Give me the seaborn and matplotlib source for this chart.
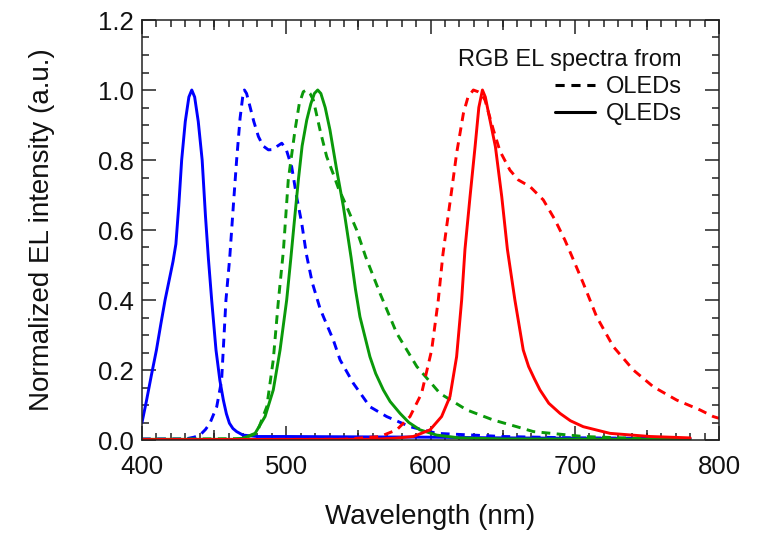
import numpy as np
import pandas as pd
import matplotlib
matplotlib.use("Agg")
import matplotlib.pyplot as plt
from matplotlib.lines import Line2D
from matplotlib.ticker import MultipleLocator, FixedLocator
import seaborn as sns

# ---------------- data ----------------
blue_q_wl = [400, 403, 406.5, 410, 413, 416, 419.5, 421.5, 423.5, 425.5, 427.5, 430, 432.5, 434.5, 436.5,
             439, 441.7, 444, 446, 448.3, 451.3, 454, 456.4, 458.5, 460.6, 463, 465.6, 470, 480,
             500, 550, 600, 650, 700, 780]
blue_q_int = [0.05, 0.11, 0.185, 0.257, 0.33, 0.40, 0.47, 0.51, 0.56, 0.67, 0.80, 0.91, 0.98, 1.0, 0.98,
              0.91, 0.80, 0.64, 0.52, 0.40, 0.257, 0.17, 0.114, 0.075, 0.048, 0.033, 0.024, 0.014, 0.010,
              0.010, 0.009, 0.008, 0.006, 0.005, 0.004]

blue_o_wl = [400, 430, 436, 440.2, 444, 447.1, 451.8, 455.2, 458.2, 460.8, 463.5, 465.6, 468, 469.8,
             471, 472.5, 474.9, 477.5, 480.7, 484, 487.6, 491, 494, 496.9, 500, 503.8, 507.2, 510.7,
             514, 518, 523.4, 526, 532.6, 537.3, 546.5, 558, 569.6, 585.8, 604.3, 650, 700, 780]
blue_o_int = [0.003, 0.003, 0.008, 0.014, 0.03, 0.048, 0.095, 0.171, 0.40, 0.52, 0.68, 0.80, 0.92, 0.98,
              1.0, 0.99, 0.952, 0.91, 0.867, 0.84, 0.829, 0.83, 0.84, 0.848, 0.83, 0.78, 0.695, 0.62,
              0.53, 0.45, 0.376, 0.35, 0.286, 0.229, 0.162, 0.095, 0.067, 0.038, 0.019, 0.010, 0.006, 0.004]

green_q_wl = [400, 465, 470, 478.4, 485.3, 491, 495.7, 500.3, 503.2, 505.5, 508.4, 511, 514.2, 517,
              519.5, 521.8, 524, 527, 530.3, 535, 539.6, 545, 548, 551.1, 558, 562, 567.3, 572, 578.9,
              585, 592.7, 604.3, 620, 650, 780]
green_q_int = [0.002, 0.002, 0.005, 0.019, 0.067, 0.143, 0.257, 0.40, 0.52, 0.62, 0.743, 0.84, 0.914, 0.96,
               0.99, 1.0, 0.99, 0.95, 0.886, 0.771, 0.667, 0.52, 0.43, 0.352, 0.238, 0.19, 0.143, 0.11, 0.076,
               0.05, 0.029, 0.014, 0.006, 0.003, 0.002]

green_o_wl = [400, 470, 479.5, 486.5, 491, 494.6, 498, 501.4, 506.1, 509, 511.8, 514, 516.5, 518.8,
              523.4, 528, 532.6, 536.1, 541.9, 548.8, 555, 565, 576.6, 590.5, 606.6, 625.1, 643.6,
              659.8, 671.3, 706, 740, 780]
green_o_int = [0.002, 0.004, 0.019, 0.095, 0.229, 0.40, 0.54, 0.743, 0.886, 0.96, 0.995, 1.0, 0.99, 0.971,
               0.886, 0.81, 0.76, 0.72, 0.667, 0.60, 0.524, 0.419, 0.305, 0.21, 0.133, 0.086, 0.057,
               0.038, 0.024, 0.010, 0.005, 0.004]

red_q_wl = [400, 560, 575, 588.1, 599.7, 607.7, 613.5, 618.1, 621.6, 623.9, 627.4, 630.9, 633.5, 636,
            638, 640.3, 645, 649.4, 653.3, 658.5, 664.3, 668, 672, 675.9, 682, 689.8, 697, 705.9, 724.4,
            752.2, 780]
red_q_int = [0.001, 0.002, 0.005, 0.010, 0.029, 0.067, 0.124, 0.238, 0.40, 0.545, 0.695, 0.838, 0.95, 1.0,
             0.98, 0.933, 0.838, 0.695, 0.545, 0.40, 0.257, 0.21, 0.175, 0.143, 0.105, 0.076, 0.055, 0.038,
             0.019, 0.010, 0.006]

red_o_wl = [400, 540, 565, 576.6, 585.8, 593.8, 600.8, 605.4, 608.6, 611.2, 614.7, 618.1, 622.8, 626,
            629.7, 633, 635, 637.8, 643.6, 648.2, 655.1, 660.9, 669, 678.2, 686.3, 693.2, 697.5, 705.9,
            715.2, 726.7, 740.6, 754.5, 770.7, 786.8, 796, 800]
red_o_int = [0.001, 0.002, 0.010, 0.029, 0.067, 0.133, 0.257, 0.40, 0.53, 0.61, 0.714, 0.819, 0.933, 0.98,
             1.0, 0.995, 0.99, 0.971, 0.886, 0.825, 0.771, 0.743, 0.724, 0.686, 0.629, 0.571, 0.53, 0.448,
             0.352, 0.267, 0.20, 0.152, 0.114, 0.086, 0.067, 0.062]

x_ticks = [400, 500, 600, 700, 800]
y_ticks = [0.0, 0.2, 0.4, 0.6, 0.8, 1.0, 1.2]
y_tick_labels = ["0.0", "0.2", "0.4", "0.6", "0.8", "1.0", "1.2"]

series = [
    ("blue", "OLEDs", blue_o_wl, blue_o_int),
    ("green", "OLEDs", green_o_wl, green_o_int),
    ("red", "OLEDs", red_o_wl, red_o_int),
    ("blue", "QLEDs", blue_q_wl, blue_q_int),
    ("green", "QLEDs", green_q_wl, green_q_int),
    ("red", "QLEDs", red_q_wl, red_q_int),
]

frames = []
for col, dev, wl, it in series:
    frames.append(pd.DataFrame({"wl": wl, "I": it, "color": col, "device": dev,
                                "sid": f"{col}-{dev}"}))
df = pd.concat(frames, ignore_index=True)

palette = {"blue": "#0000ff", "green": "#0a990a", "red": "#ff0000"}
dash_style = {"OLEDs": (3.0, 2.2), "QLEDs": ""}

# ---------------- figure ----------------
sns.set_style("ticks")
plt.rcParams["font.family"] = ["Liberation Sans", "DejaVu Sans"]
plt.rcParams["text.color"] = "#111111"
plt.rcParams["axes.labelcolor"] = "#111111"
plt.rcParams["xtick.labelcolor"] = "#111111"
plt.rcParams["ytick.labelcolor"] = "#111111"

fig = plt.figure(figsize=(7.6, 5.33), dpi=100)
ax = fig.add_axes([142 / 760, 1 - 440 / 533, 577 / 760, 420 / 533])

sns.lineplot(data=df, x="wl", y="I", hue="color", style="device", units="sid",
             estimator=None, sort=False, palette=palette, dashes=dash_style,
             linewidth=2.1, legend=False, ax=ax)

ax.xaxis.set_major_locator(FixedLocator(x_ticks))
ax.xaxis.set_minor_locator(MultipleLocator(10))
ax.set_yticks(y_ticks)
ax.set_yticklabels(y_tick_labels)
ax.yaxis.set_minor_locator(MultipleLocator(0.05))
ax.set_xlim(400, 800)
ax.set_ylim(0, 1.2)

for s in ax.spines.values():
    s.set_visible(True)
    s.set_linewidth(1.1)
    s.set_color("#222222")

ax.tick_params(which="both", direction="in", top=True, right=True, color="#222222", width=1.1)
ax.tick_params(which="major", length=10)
ax.tick_params(which="minor", length=5)
ax.tick_params(axis="x", which="major", labelsize=18.5, pad=10.5)
ax.tick_params(axis="y", which="major", labelsize=18.5, pad=6)

# medium ticks at 50 nm
for loc in ("bottom", "top"):
    sec = ax.secondary_xaxis(loc)
    sec.set_xticks([450, 550, 650, 750])
    sec.set_xticklabels([])
    sec.tick_params(direction="in", length=7.5, width=1.1, color="#222222")
    for s in sec.spines.values():
        s.set_visible(False)

ax.set_xlabel("Wavelength (nm)", fontsize=20, labelpad=18)
ax.set_ylabel("Normalized EL intensity (a.u.)", fontsize=20, labelpad=31)

handles = [Line2D([], [], color="black", lw=2.2, dashes=(3.0, 2.2)),
           Line2D([], [], color="black", lw=2.2)]
leg = ax.legend(handles, ["OLEDs", "QLEDs"], title="RGB EL spectra from",
                loc="upper right", bbox_to_anchor=(540 / 577, 391 / 420),
                frameon=False, fontsize=17, title_fontsize=17, alignment="right",
                borderpad=0, borderaxespad=0, labelspacing=0.22,
                handlelength=1.7, handletextpad=0.45)

fig.savefig("out.png", dpi=100)
